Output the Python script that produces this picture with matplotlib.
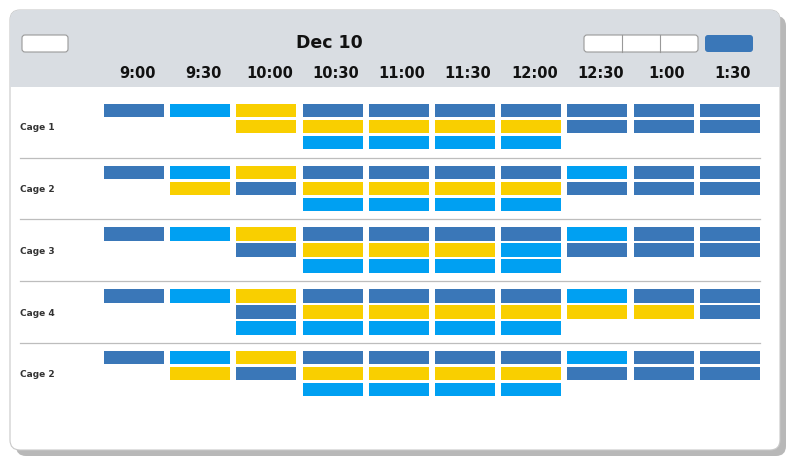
import matplotlib
matplotlib.use("Agg")
import matplotlib.pyplot as plt
from matplotlib.patches import FancyBboxPatch, Rectangle

# Data
title = "Dec 10"
times = ["9:00", "9:30", "10:00", "10:30", "11:00", "11:30", "12:00", "12:30", "1:00", "1:30"]
cages = ["Cage 1", "Cage 2", "Cage 3", "Cage 4", "Cage 2"]
# D = dark blue, L = light blue, Y = yellow; one string per time slot
cage1 = ["D", "L", "YY", "DYL", "DYL", "DYL", "DYL", "DD", "DD", "DD"]
cage2 = ["D", "LY", "YD", "DYL", "DYL", "DYL", "DYL", "LD", "DD", "DD"]
cage3 = ["D", "L", "YD", "DYL", "DYL", "DYL", "DLL", "LD", "DD", "DD"]
cage4 = ["D", "L", "YDL", "DYL", "DYL", "DYL", "DYL", "LY", "DY", "DD"]
cage5 = ["D", "LY", "YD", "DYL", "DYL", "DYL", "DYL", "LD", "DD", "DD"]
schedule = [cage1, cage2, cage3, cage4, cage5]

COLORS = {"D": "#3a77b8", "L": "#00a0f2", "Y": "#f9cf00"}

fig = plt.figure(figsize=(8, 4.69), dpi=100)
ax = fig.add_axes([0, 0, 1, 1])
ax.set_xlim(0, 800)
ax.set_ylim(469, 0)
ax.axis("off")

# card + shadow
ax.add_patch(FancyBboxPatch((16, 16), 770, 440, boxstyle="round,pad=0,rounding_size=10",
                            fc="#b8b8b8", ec="none", zorder=0))
ax.add_patch(FancyBboxPatch((10, 10), 770, 440, boxstyle="round,pad=0,rounding_size=10",
                            fc="white", ec="#c8c8c8", lw=0.8, zorder=1))
ax.add_patch(FancyBboxPatch((10, 10), 770, 77, boxstyle="round,pad=0,rounding_size=10",
                            fc="#d9dde2", ec="none", zorder=2))
ax.add_patch(Rectangle((10, 60), 770, 27, fc="#d9dde2", ec="none", zorder=2))

# header controls
ax.add_patch(FancyBboxPatch((22, 35), 46, 17, boxstyle="round,pad=0,rounding_size=3",
                            fc="white", ec="#999999", lw=0.8, zorder=3))
ax.add_patch(FancyBboxPatch((584, 35), 114, 17, boxstyle="round,pad=0,rounding_size=3",
                            fc="white", ec="#999999", lw=0.8, zorder=3))
for xs in (622, 660):
    ax.plot([xs, xs], [35, 52], color="#999999", lw=0.8, zorder=4)
ax.add_patch(FancyBboxPatch((705, 35), 48, 17, boxstyle="round,pad=0,rounding_size=3",
                            fc="#3a77b8", ec="none", zorder=3))
ax.text(329, 43, title, ha="center", va="center", fontsize=12.5, fontweight="bold",
        color="#111111", zorder=4)

col_x0 = 104
col_step = 66.2
bar_w = 60
row_y0 = 104
row_step = 61.7
slot_step = 16
bar_h = 13.5

for i, t in enumerate(times):
    ax.text(col_x0 + i * col_step + bar_w / 2 + 3, 73, t, ha="center", va="center",
            fontsize=10.5, fontweight="bold", color="#111111", zorder=4)

for r, (name, row) in enumerate(zip(cages, schedule)):
    top = row_y0 + r * row_step
    ax.text(20, top + 24, name, ha="left", va="center", fontsize=6.5,
            fontweight="bold", color="#333333", zorder=4)
    if r > 0:
        ax.plot([20, 760], [top - 8, top - 8], color="#bdbdbd", lw=0.9, zorder=3)
    for c, slots in enumerate(row):
        for s, code in enumerate(slots):
            ax.bar(col_x0 + c * col_step, bar_h, width=bar_w, bottom=top + s * slot_step,
                   align="edge", color=COLORS[code], zorder=4)

fig.savefig("out.png", dpi=100)
